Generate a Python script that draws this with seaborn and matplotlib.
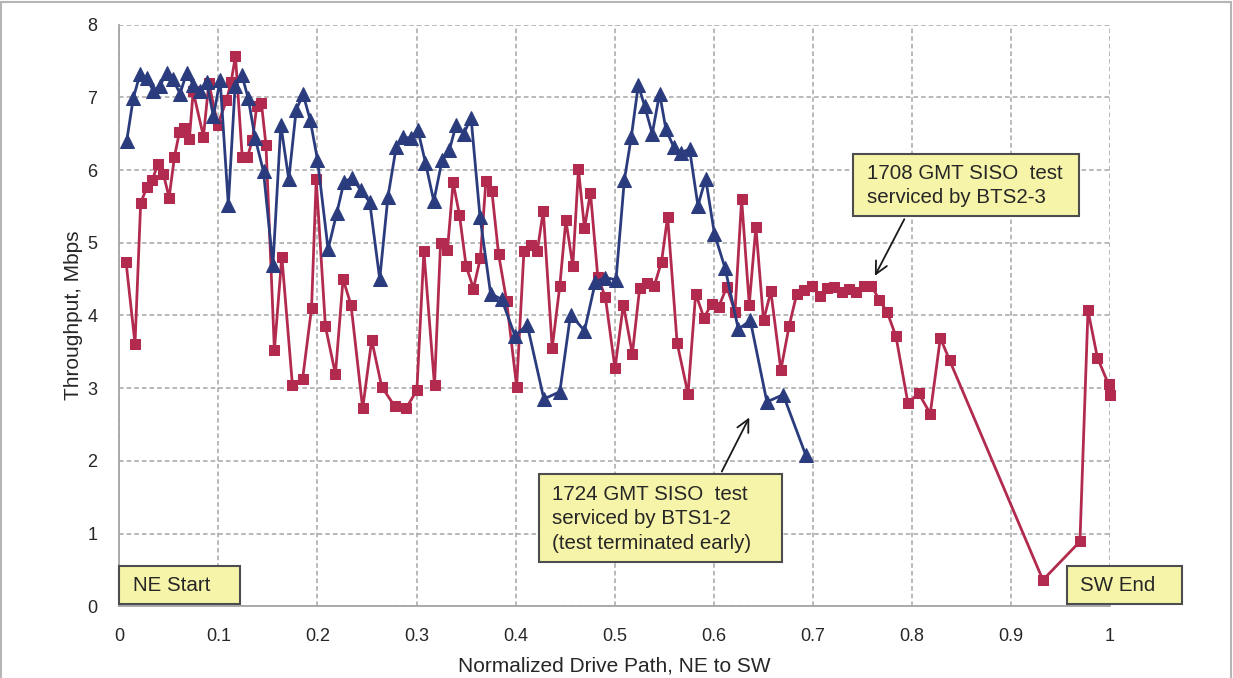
import numpy as np
import pandas as pd
import matplotlib
matplotlib.use("Agg")
import matplotlib.pyplot as plt
from matplotlib.patches import Rectangle
import seaborn as sns

# 1724 GMT test (BTS1-2), blue triangles
x_1724 = [0.0074, 0.0141, 0.0209, 0.0276, 0.0343, 0.0410, 0.0478, 0.0539, 0.0613, 0.0680,
          0.0747, 0.0810, 0.0880, 0.0950, 0.1017, 0.1100, 0.1168, 0.1236, 0.1300, 0.1370,
          0.1455, 0.1550, 0.1630, 0.1710, 0.1785, 0.1855, 0.1926, 0.2000, 0.2107, 0.2195,
          0.2268, 0.2352, 0.2436, 0.2527, 0.2628, 0.2711, 0.2795, 0.2866, 0.2940, 0.3013,
          0.3090, 0.3174, 0.3258, 0.3332, 0.3399, 0.3477, 0.3550, 0.3640, 0.3747, 0.3860,
          0.3993, 0.4117, 0.4285, 0.4446, 0.4554, 0.4695, 0.4805, 0.4906, 0.5013, 0.5097,
          0.5168, 0.5238, 0.5302, 0.5379, 0.5453, 0.5517, 0.5594, 0.5674, 0.5755, 0.5840,
          0.5918, 0.6007, 0.6114, 0.6248, 0.6369, 0.6536, 0.6700, 0.6928]
y_1724 = [6.40, 6.99, 7.32, 7.26, 7.09, 7.16, 7.34, 7.25, 7.05, 7.34,
          7.17, 7.08, 7.21, 6.74, 7.24, 5.52, 7.15, 7.31, 6.99, 6.44,
          5.98, 4.69, 6.62, 5.87, 6.83, 7.04, 6.69, 6.14, 4.91, 5.41,
          5.84, 5.89, 5.72, 5.56, 4.50, 5.63, 6.32, 6.45, 6.44, 6.55,
          6.10, 5.57, 6.14, 6.28, 6.62, 6.50, 6.72, 5.36, 4.30, 4.22,
          3.72, 3.87, 2.85, 2.95, 4.01, 3.79, 4.46, 4.52, 4.49, 5.86,
          6.46, 7.17, 6.88, 6.50, 7.05, 6.56, 6.32, 6.24, 6.29, 5.51,
          5.88, 5.12, 4.65, 3.81, 3.93, 2.81, 2.91, 2.08]

# 1708 GMT test (BTS2-3), red squares
x_1708 = [0.0067, 0.0158, 0.0215, 0.0276, 0.0333, 0.0387, 0.0444, 0.0502, 0.0556, 0.0606,
          0.0657, 0.0707, 0.0745, 0.0849, 0.0903, 0.0993, 0.1081, 0.1128, 0.1172, 0.1240,
          0.1293, 0.1343, 0.1387, 0.1434, 0.1480, 0.1565, 0.1640, 0.1747, 0.1850, 0.1940,
          0.1987, 0.2080, 0.2181, 0.2258, 0.2339, 0.2456, 0.2547, 0.2648, 0.2779, 0.2893,
          0.3003, 0.3074, 0.3181, 0.3242, 0.3312, 0.3369, 0.3433, 0.3500, 0.3574, 0.3644,
          0.3700, 0.3760, 0.3828, 0.3909, 0.4010, 0.4084, 0.4151, 0.4218, 0.4279, 0.4369,
          0.4446, 0.4507, 0.4577, 0.4634, 0.4695, 0.4755, 0.4829, 0.4906, 0.5003, 0.5087,
          0.5178, 0.5252, 0.5326, 0.5400, 0.5473, 0.5534, 0.5630, 0.5740, 0.5817, 0.5900,
          0.5980, 0.6050, 0.6131, 0.6214, 0.6281, 0.6358, 0.6425, 0.6502, 0.6576, 0.6677,
          0.6760, 0.6838, 0.6911, 0.6988, 0.7069, 0.7140, 0.7213, 0.7290, 0.7363, 0.7440,
          0.7514, 0.7591, 0.7672, 0.7749, 0.7839, 0.7960, 0.8067, 0.8185, 0.8287, 0.8381,
          0.9322, 0.9696, 0.9777, 0.9872, 0.9985, 0.9995]
y_1708 = [4.74, 3.61, 5.54, 5.76, 5.86, 6.08, 5.95, 5.62, 6.18, 6.52,
          6.58, 6.43, 7.08, 6.46, 7.20, 6.62, 6.96, 7.21, 7.57, 6.18,
          6.18, 6.41, 6.88, 6.92, 6.34, 3.52, 4.81, 3.04, 3.13, 4.10,
          5.87, 3.85, 3.19, 4.50, 4.14, 2.72, 3.66, 3.02, 2.75, 2.72,
          2.97, 4.88, 3.04, 4.99, 4.90, 5.83, 5.38, 4.68, 4.37, 4.79,
          5.85, 5.71, 4.84, 4.20, 3.02, 4.89, 4.97, 4.88, 5.44, 3.55,
          4.41, 5.31, 4.68, 6.01, 5.20, 5.69, 4.53, 4.25, 3.27, 4.15,
          3.47, 4.38, 4.44, 4.41, 4.74, 5.36, 3.62, 2.92, 4.30, 3.97,
          4.16, 4.12, 4.39, 4.05, 5.60, 4.15, 5.22, 3.93, 4.33, 3.25,
          3.85, 4.30, 4.35, 4.40, 4.27, 4.38, 4.39, 4.32, 4.36, 4.32,
          4.41, 4.41, 4.21, 4.05, 3.71, 2.79, 2.93, 2.65, 3.69, 3.38,
          0.36, 0.89, 4.07, 3.42, 3.05, 2.91]

x_ticks = [0, 0.1, 0.2, 0.3, 0.4, 0.5, 0.6, 0.7, 0.8, 0.9, 1]
x_ticklabels = ["0", "0.1", "0.2", "0.3", "0.4", "0.5", "0.6", "0.7", "0.8", "0.9", "1"]
y_ticks = [0, 1, 2, 3, 4, 5, 6, 7, 8]

blue = "#2B3C7E"
red = "#B22A4E"
box_fill = "#F6F4A9"
txt = "#262626"
grey = "#A5A5A5"

sns.set_theme(style="white")
plt.rcParams["font.family"] = ["Liberation Sans", "DejaVu Sans"]

fig = plt.figure(figsize=(12.33, 6.78), dpi=100)
ax = fig.add_axes([0.0968, 0.1059, 0.8035, 0.8578])

df_b = pd.DataFrame({"x": x_1724, "y": y_1724})
df_r = pd.DataFrame({"x": x_1708, "y": y_1708})

sns.lineplot(data=df_r, x="x", y="y", sort=False, estimator=None, ax=ax,
             color=red, lw=2, marker="s", markersize=7, markeredgecolor=red, zorder=3)
sns.lineplot(data=df_b, x="x", y="y", sort=False, estimator=None, ax=ax,
             color=blue, lw=2, marker="^", markersize=9.5, markeredgecolor=blue, zorder=4)
for ln in ax.lines:
    ln.set_clip_on(False)

ax.set_xlim(0, 1)
ax.set_ylim(0, 8)
ax.set_xticks(x_ticks)
ax.set_xticklabels(x_ticklabels)
ax.set_yticks(y_ticks)
ax.grid(True, color=grey, linestyle=(0, (3, 2)), lw=1.1)
ax.set_axisbelow(True)

for s in ["top", "right"]:
    ax.spines[s].set_visible(False)
for s in ["left", "bottom"]:
    ax.spines[s].set_color(grey)
    ax.spines[s].set_linewidth(1.3)

ax.tick_params(axis="both", direction="out", length=6, width=1.2, color=grey,
               labelsize=13, labelcolor=txt)
ax.tick_params(axis="x", pad=10)
ax.tick_params(axis="y", pad=10)

ax.set_xlabel("Normalized Drive Path, NE to SW", fontsize=15, color=txt, labelpad=8)
ax.set_ylabel("Throughput, Mbps", fontsize=15, color=txt, labelpad=3)


def note(x0, y0, x1, y1, tx, ty, text):
    ax.add_patch(Rectangle((x0, y0), x1 - x0, y1 - y0, facecolor=box_fill,
                           edgecolor="#4D4D4D", lw=1.5, zorder=6, clip_on=False))
    ax.text(tx, ty, text, fontsize=14.8, color=txt, ha="left", va="center",
            linespacing=1.38, zorder=7, clip_on=False)


note(0.0, 0.03, 0.122, 0.553, 0.0138, 0.28, "NE Start")
note(0.957, 0.03, 1.073, 0.553, 0.9697, 0.28, "SW End")
note(0.4234, 0.612, 0.669, 1.818, 0.4368, 1.20,
     "1724 GMT SISO  test\nserviced by BTS1-2\n(test terminated early)")
note(0.741, 5.37, 0.969, 6.22, 0.755, 5.785,
     "1708 GMT SISO  test\nserviced by BTS2-3")

ax.annotate("", xy=(0.6371, 2.63), xytext=(0.6068, 1.818),
            arrowprops=dict(arrowstyle="->", lw=1.3, color="#1A1A1A", mutation_scale=22),
            zorder=5)
ax.annotate("", xy=(0.7613, 4.51), xytext=(0.7936, 5.357),
            arrowprops=dict(arrowstyle="->", lw=1.3, color="#1A1A1A", mutation_scale=22),
            zorder=5)

# light outer frame of the picture
fig.patches.append(Rectangle((0.0012, -0.01), 0.9975, 1.0075, transform=fig.transFigure,
                             fill=False, edgecolor="#B5B5B5", lw=1.5))

fig.savefig("out.png", dpi=100)
